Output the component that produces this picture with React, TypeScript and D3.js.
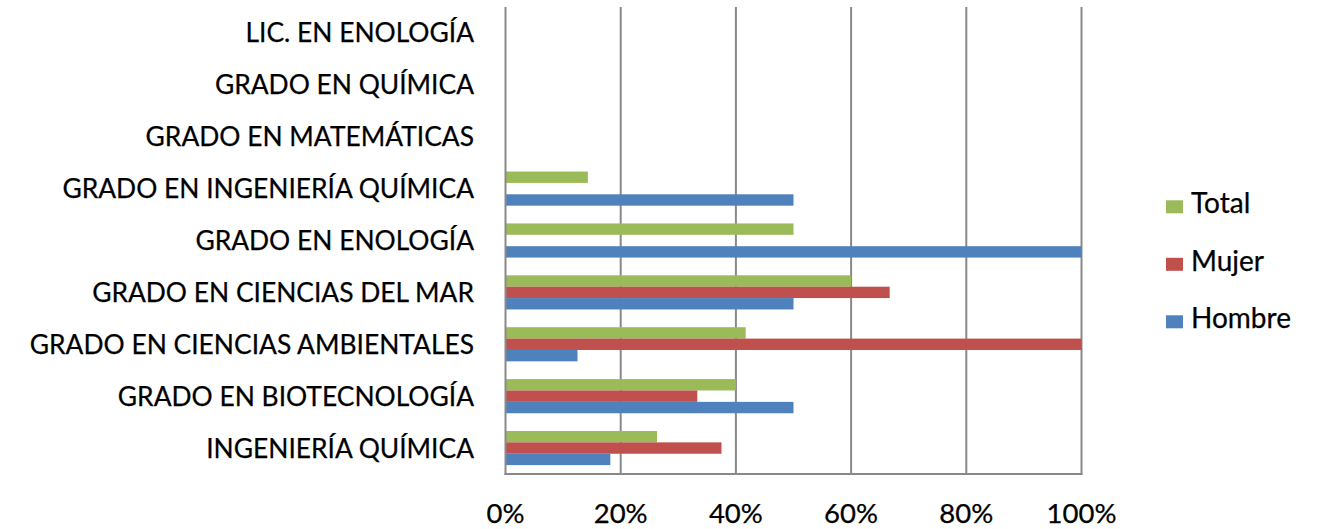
import React from "react";
import * as d3 from "d3";

const categories = [
  "LIC. EN ENOLOGÍA",
  "GRADO EN QUÍMICA",
  "GRADO EN MATEMÁTICAS",
  "GRADO EN INGENIERÍA QUÍMICA",
  "GRADO EN ENOLOGÍA",
  "GRADO EN CIENCIAS DEL MAR",
  "GRADO EN CIENCIAS AMBIENTALES",
  "GRADO EN BIOTECNOLOGÍA",
  "INGENIERÍA QUÍMICA",
];
const seriesNames = ["Total", "Mujer", "Hombre"];
const totalValues = [0, 0, 0, 0.143, 0.5, 0.6, 0.417, 0.4, 0.263];
const mujerValues = [0, 0, 0, 0, 0, 0.667, 1, 0.333, 0.375];
const hombreValues = [0, 0, 0, 0.5, 1, 0.5, 0.125, 0.5, 0.182];
const tickValues = [0, 0.2, 0.4, 0.6, 0.8, 1];
const colors = ["#9BBB59", "#C0504D", "#4F81BD"];

const W = 1324;
const H = 529;
const FONT = "Lato, 'Open Sans', sans-serif";
const textStyle = { fill: "#000", stroke: "#000", strokeWidth: 0.25 };

export default function App() {
  const x = d3.scaleLinear().domain([0, 1]).range([505.5, 1081.5]);
  const y = d3.scaleBand<string>().domain(categories).range([7, 474]).paddingInner(0).paddingOuter(0);
  const inner = d3
    .scaleBand<string>()
    .domain(seriesNames)
    .range([0, y.bandwidth()])
    .paddingInner(0)
    .paddingOuter(0.78);
  const values = [totalValues, mujerValues, hombreValues];
  const fmt = d3.format(".0%");

  return (
    <svg
      width={W}
      height={H}
      style={{ position: "absolute", left: 0, top: 0, background: "#fff" }}
    >
      <rect x={0} y={0} width={W} height={H} fill="#fff" />
      {tickValues.slice(1).map((t) => (
        <line
          key={t}
          x1={x(t)}
          x2={x(t)}
          y1={y.range()[0]}
          y2={y.range()[1]}
          stroke="#898989"
          strokeWidth={2}
        />
      ))}
      {categories.map((c, i) =>
        seriesNames.map((s, j) => {
          const v = values[j][i];
          if (!v) return null;
          return (
            <rect
              key={c + s}
              x={x(0)}
              y={(y(c) as number) + (inner(s) as number)}
              width={x(v) - x(0)}
              height={inner.bandwidth()}
              fill={colors[j]}
            />
          );
        })
      )}
      <line x1={x(0)} x2={x(0)} y1={y.range()[0]} y2={y.range()[1] + 1} stroke="#898989" strokeWidth={2} />
      <line x1={x(0) - 1} x2={x(1) + 1} y1={y.range()[1]} y2={y.range()[1]} stroke="#898989" strokeWidth={2} />
      {categories.map((c) => (
        <text
          key={c}
          x={474}
          y={(y(c) as number) + y.bandwidth() / 2 + 9.5}
          textAnchor="end"
          fontFamily={FONT}
          fontSize={26.4}
          style={textStyle}
        >
          {c}
        </text>
      ))}
      {tickValues.map((t) => (
        <text
          key={t}
          x={x(t)}
          y={523}
          textAnchor="middle"
          fontFamily={FONT}
          fontSize={27.5}
          style={textStyle}
        >
          {fmt(t)}
        </text>
      ))}
      {seriesNames.map((s, j) => {
        const base = 213.3 + j * 57.5;
        return (
          <g key={s}>
            <rect x={1166} y={base - 13} width={17} height={13} fill={colors[j]} />
            <text x={1191} y={base} fontFamily={FONT} fontSize={28} style={textStyle}>
              {s}
            </text>
          </g>
        );
      })}
    </svg>
  );
}
